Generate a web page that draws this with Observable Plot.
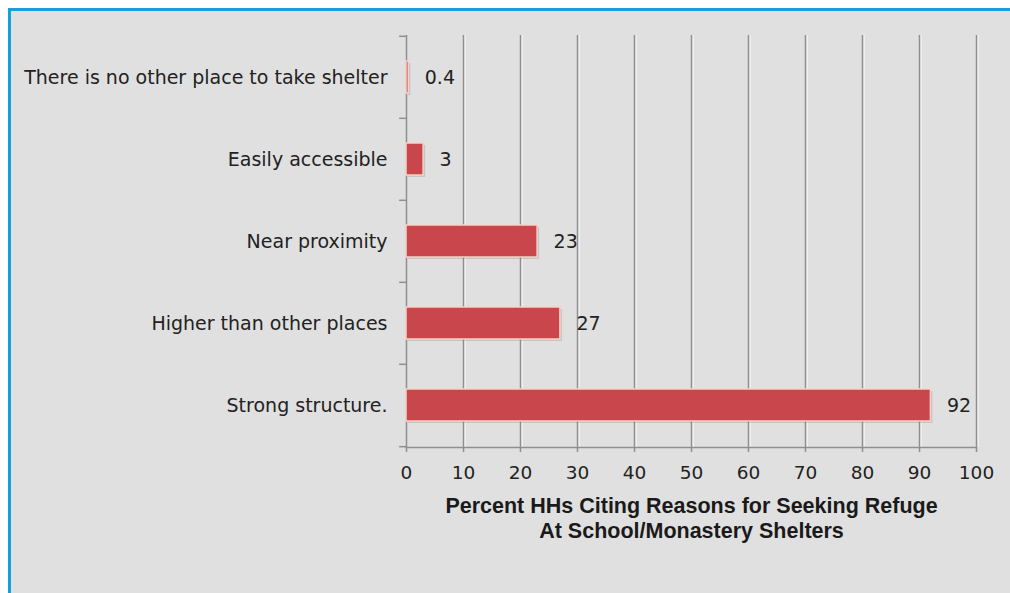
<!DOCTYPE html>
<html>
<head>
<meta charset="utf-8">
<script src="https://cdn.jsdelivr.net/npm/d3@7"></script>
<script src="https://cdn.jsdelivr.net/npm/@observablehq/plot@0.6"></script>
<style>
  html, body { margin: 0; padding: 0; background: #ffffff; }
  #wrap { position: relative; width: 1010px; height: 593px; background: #ffffff; overflow: hidden; }
  #panel { position: absolute; left: 8px; top: 8px; right: -10px; bottom: -10px;
           border-left: 3px solid #14a0d8; border-top: 3px solid #14a0d8; background: #e0e0e0; }
  #chart { position: absolute; left: 0; top: 0; }
</style>
</head>
<body>
<div id="wrap"><div id="panel"></div><div id="chart"></div></div>
<script>
const categories = [
  "There is no other place to take shelter",
  "Easily accessible",
  "Near proximity",
  "Higher than other places",
  "Strong structure."
];
const values = [0.4, 3, 23, 27, 92];
const xTicks = [0, 10, 20, 30, 40, 50, 60, 70, 80, 90, 100];
const xLabel = "Percent HHs Citing Reasons for Seeking Refuge\nAt School/Monastery Shelters";

const data = categories.map((c, i) => ({cat: c, value: values[i]}));
const font = "'DejaVu Sans', Verdana, sans-serif";

const plot = Plot.plot({
  width: 1010,
  height: 593,
  marginLeft: 406,
  marginRight: 34,
  marginTop: 35,
  marginBottom: 146,
  style: {background: "transparent", fontFamily: font, color: "#222"},
  x: {domain: [0, 100], ticks: xTicks, label: null},
  y: {domain: categories, paddingInner: 0.612, paddingOuter: 0.306, label: null},
  marks: [
    // vertical gridlines
    Plot.ruleX(xTicks.filter(v => v > 0), {stroke: "#f4f4f4", strokeWidth: 1.5, dx: 1.5}),
    Plot.ruleX(xTicks.filter(v => v > 0), {stroke: "#8f8f8f", strokeWidth: 1.5}),
    // y axis line
    Plot.ruleX([0], {stroke: "#8f8f8f", strokeWidth: 1.5}),
    // bottom axis line
    Plot.frame({anchor: "bottom", stroke: "#8f8f8f", strokeWidth: 1.5}),
    // boundary ticks on the y axis
    Plot.ruleY(categories, {y: d => d, dy: -41.2, x1: -1.2, x2: 0, stroke: "#8f8f8f", strokeWidth: 1.5}),
    Plot.ruleY([categories[categories.length - 1]], {y: d => d, dy: 41.2, x1: -1.2, x2: 0, stroke: "#8f8f8f", strokeWidth: 1.5}),
    // bar shadows
    Plot.barX(data, {x: "value", y: "cat", fill: "#000", fillOpacity: 0.12, dx: 2, dy: 2}),
    // bars
    Plot.barX(data, {x: "value", y: "cat", fill: "#c8464c", stroke: "#f6d2c8", strokeWidth: 1.5}),
    // value labels
    Plot.text(data, {x: "value", y: "cat", text: d => String(d.value), dx: 16, textAnchor: "start",
      fontSize: 19, fill: "#222"}),
    // axes
    Plot.axisY({tickSize: 0, tickPadding: 19, fontSize: 19, label: null, fill: "#222"}),
    Plot.axisX({ticks: xTicks, tickSize: 5, tickPadding: 13, fontSize: 18.5, label: null,
      stroke: "#8f8f8f", strokeWidth: 1.5, fill: "#222"}),
    // axis title
    Plot.text([xLabel], {frameAnchor: "bottom", dy: 48, lineAnchor: "top", lineHeight: 1.16,
      fontWeight: "bold", fontSize: 21.5, fontFamily: "'Liberation Sans', Arial, sans-serif", fill: "#1a1a1a"})
  ]
});
document.getElementById("chart").appendChild(plot);
</script>
</body>
</html>
